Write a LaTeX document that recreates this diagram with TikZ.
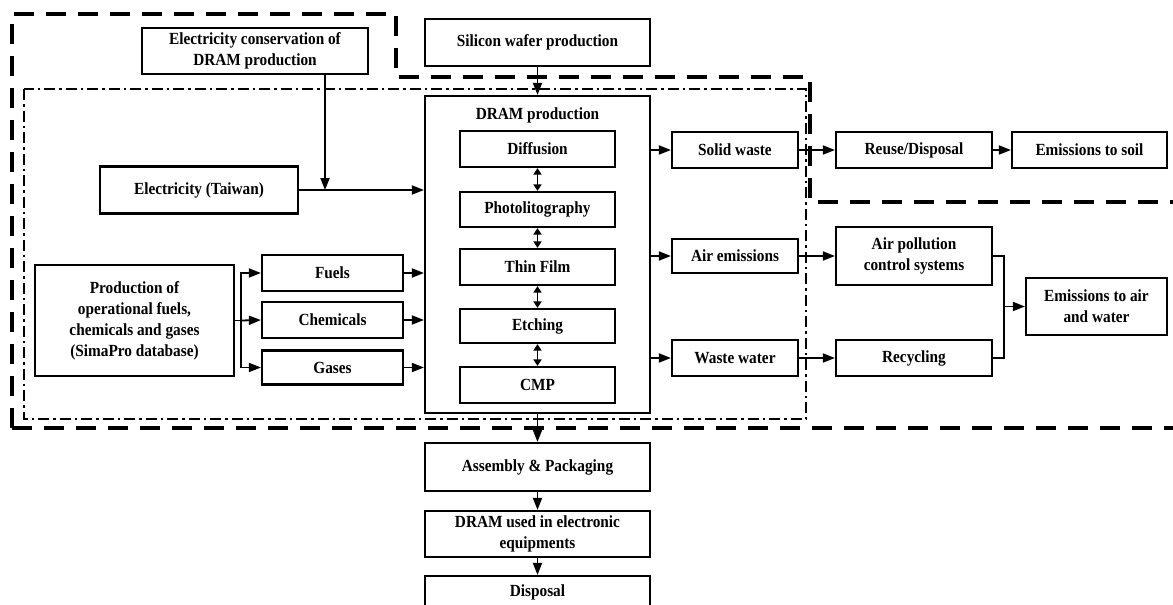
\documentclass[tikz,border=0pt]{standalone}
\usepackage{fontspec}
\setmainfont[FakeStretch=0.9]{Liberation Serif}
\usetikzlibrary{arrows.meta}
\begin{document}
\begin{tikzpicture}[x=1pt,y=-1pt,
  box/.style={draw, line width=2.2pt, inner sep=0pt, align=center,
    font=\fontsize{17}{21}\selectfont\bfseries},
  arr/.style={line width=1.8pt, -{Triangle[length=12pt,width=9pt]}},
  dbl/.style={line width=1.8pt, {Triangle[length=6.5pt,width=8pt]}-{Triangle[length=6.5pt,width=8pt]}},
  link/.style={line width=1.8pt},
  sysline/.style={line width=3.2pt, dash pattern=on 20pt off 12pt},
  dramline/.style={line width=2.8pt, dash pattern=on 11pt off 4pt on 2.5pt off 4pt}]
\clip (0,0) rectangle (1173,605);
\useasboundingbox (0,0) rectangle (1173,605);
\fill[white] (0,0) rectangle (1173,605);

% system boundary (dashed) and DRAM production boundary (dash-dot)
\draw[sysline] (12,428) -- (12,14) -- (396,14) -- (396,77) -- (810,77) -- (810,202) -- (1180,202);
\draw[sysline] (12,428) -- (1180,428);
\draw[dramline] (24,89) rectangle (806,419);

% upstream
\node[box, minimum width=226pt, minimum height=46pt] (cons) at (255,51) {Electricity conservation of\\DRAM production};
\node[box, minimum width=225pt, minimum height=47pt] (wafer) at (537.5,42.5) {Silicon wafer production};
\node[box, minimum width=198pt, minimum height=47pt] (elec) at (199,190) {Electricity (Taiwan)};
\node[box, minimum width=199pt, minimum height=111pt] (prod) at (134.5,320.5) {Production of\\operational fuels,\\chemicals and gases\\(SimaPro database)};
\node[box, minimum width=141pt, minimum height=36pt] (fuels) at (332.5,273) {Fuels};
\node[box, minimum width=141pt, minimum height=36pt] (chem) at (332.5,320) {Chemicals};
\node[box, minimum width=141pt, minimum height=34pt] (gases) at (332.5,367.5) {Gases};

% DRAM production and its steps
\node[box, minimum width=225pt, minimum height=317pt] (dram) at (537.5,254.5) {};
\node[font=\fontsize{17}{21}\selectfont\bfseries] (dramtitle) at (537.5,115) {DRAM production};
\node[box, minimum width=155pt, minimum height=36pt] (diff) at (537.5,149) {Diffusion};
\node[box, minimum width=155pt, minimum height=35pt] (photo) at (537.5,209.5) {Photolitography};
\node[box, minimum width=155pt, minimum height=36pt] (thin) at (537.5,267) {Thin Film};
\node[box, minimum width=155pt, minimum height=34pt] (etch) at (537.5,326) {Etching};
\node[box, minimum width=155pt, minimum height=36pt] (cmp) at (537.5,385) {CMP};

% outputs
\node[box, minimum width=126pt, minimum height=36pt] (solid) at (735,150) {Solid waste};
\node[box, minimum width=126pt, minimum height=34pt] (air) at (735,256) {Air emissions};
\node[box, minimum width=126pt, minimum height=36pt] (waste) at (735,358) {Waste water};
\node[box, minimum width=156pt, minimum height=36pt] (reuse) at (914,150) {Reuse/Disposal};
\node[box, minimum width=155pt, minimum height=36pt] (soil) at (1089.5,150) {Emissions to soil};
\node[box, minimum width=156pt, minimum height=58pt] (apc) at (914,256) {Air pollution\\control systems};
\node[box, minimum width=156pt, minimum height=36pt] (recyc) at (914,358) {Recycling};
\node[box, minimum width=141pt, minimum height=57pt] (emaw) at (1096.5,306.5) {Emissions to air\\and water};

% downstream
\node[box, minimum width=225pt, minimum height=48pt] (asm) at (537.5,467) {Assembly \& Packaging};
\node[box, minimum width=225pt, minimum height=46pt] (used) at (537.5,534) {DRAM used in electronic\\equipments};
\node[box, minimum width=225pt, minimum height=34pt, text depth=4pt] (disp) at (537.5,593) {Disposal};

% junctions
\coordinate (j) at (325,190);
\coordinate (s) at (241,320.5);
\coordinate (m) at (1004,306.5);

% connectors
\draw[arr] (wafer) -- (dram);
\draw[arr] (elec.east) -- (elec.east -| dram.west);
\draw[arr] (cons.south -| j) -- (j);
\draw[link] (prod.east) -- (s);
\draw[arr] (s) |- (fuels.west);
\draw[arr] (s) -- (chem.west);
\draw[arr] (s) |- (gases.west);
\draw[arr] (fuels.east) -- (fuels.east -| dram.west);
\draw[arr] (chem.east) -- (chem.east -| dram.west);
\draw[arr] (gases.east) -- (gases.east -| dram.west);

\draw[dbl] (diff) -- (photo);
\draw[dbl] (photo) -- (thin);
\draw[dbl] (thin) -- (etch);
\draw[dbl] (etch) -- (cmp);

\draw[arr] (solid.west -| dram.east) -- (solid.west);
\draw[arr] (air.west -| dram.east) -- (air.west);
\draw[arr] (waste.west -| dram.east) -- (waste.west);
\draw[arr] (solid) -- (reuse);
\draw[arr] (reuse) -- (soil);
\draw[arr] (air) -- (apc);
\draw[arr] (waste) -- (recyc);
\draw[link] (apc.east) -- (apc.east -| m) |- (recyc.east);
\draw[arr] (m) -- (emaw.west);

\draw[arr] (dram) -- (asm);
\draw[arr] (asm) -- (used);
\draw[arr] (used) -- (disp);
\end{tikzpicture}
\end{document}
